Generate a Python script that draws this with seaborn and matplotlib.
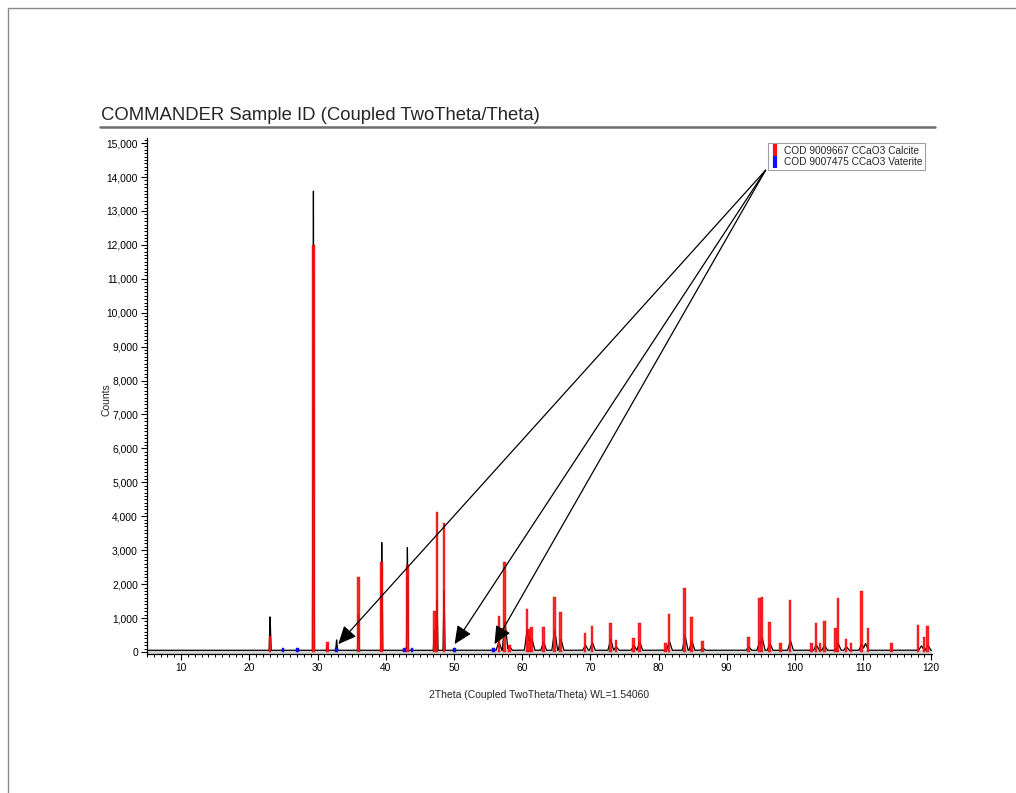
import numpy as np
import pandas as pd
import matplotlib
matplotlib.use("Agg")
import matplotlib.pyplot as plt
import seaborn as sns
from matplotlib.lines import Line2D
from matplotlib.ticker import MultipleLocator, FuncFormatter

# ---------------- data ----------------
calcite_2theta = [23.05, 29.4, 31.45, 36.0, 39.42, 43.18, 47.12, 47.52, 48.55,
                  56.6, 57.45, 58.15, 60.7, 61.05, 61.42, 63.1, 64.72, 65.65,
                  69.25, 70.25, 72.95, 73.75, 76.35, 77.2, 81.05, 81.55, 83.85,
                  84.85, 86.45, 93.2, 94.8, 95.15, 96.3, 97.85, 99.3, 102.4,
                  103.1, 103.7, 104.3, 105.95, 106.3, 107.5, 108.2, 109.75,
                  110.7, 114.2, 118.05, 118.95, 119.45]
calcite_counts = [480, 12000, 280, 2220, 2660, 2550, 1210, 4120, 3790,
                  1070, 2660, 200, 1270, 680, 735, 745, 1630, 1170,
                  570, 765, 865, 355, 425, 845, 255, 1120, 1875,
                  1040, 335, 450, 1580, 1630, 875, 255, 1530, 255,
                  845, 255, 925, 700, 1580, 375, 255, 1800,
                  700, 255, 795, 450, 765]

vaterite_2theta = [24.95, 27.05, 32.8, 42.8, 43.85, 50.1, 55.8]
vaterite_counts = [130, 130, 130, 120, 130, 130, 120]

scan_peak_2theta = [23.05, 29.4, 31.45, 32.8, 36.0, 39.42, 43.18, 47.12, 47.52,
                    48.55, 56.6, 57.5, 58.15, 60.75, 61.1, 61.45, 63.15, 64.78,
                    65.7, 69.3, 70.3, 73.0, 73.8, 76.4, 77.25, 81.6, 83.9,
                    84.9, 86.5, 93.25, 94.85, 95.2, 96.35, 99.35, 103.15, 104.35,
                    106.35, 107.55, 109.8, 110.35, 118.55, 119.5]
scan_peak_counts = [1050, 13800, 180, 360, 1100, 3250, 3100, 650, 1550,
                    1850, 300, 900, 150, 660, 450, 380, 300, 650,
                    380, 200, 280, 380, 150, 200, 300, 320, 470,
                    320, 110, 150, 320, 420, 250, 330, 200, 200,
                    250, 150, 230, 250, 180, 200]
scan_background = 50

legend_labels = ["COD 9009667 CCaO3 Calcite", "COD 9007475 CCaO3 Vaterite"]
arrow_tail = (95.7, 14200)
arrow_tips_2theta = [33.05, 50.1, 55.95]
arrow_tips_counts = [230, 230, 230]

title_text = "COMMANDER Sample ID (Coupled TwoTheta/Theta)"
x_label = "2Theta (Coupled TwoTheta/Theta) WL=1.54060"
y_label = "Counts"

# ---------------- style ----------------
sns.set_style("ticks")
plt.rcParams["font.family"] = ["Liberation Sans", "DejaVu Sans"]

W, H = 1016, 793
fig = plt.figure(figsize=(W / 100, H / 100), dpi=100)
ax = fig.add_axes([147 / W, 1 - 654 / H, (932 - 147) / W, (654 - 138) / H])

# measured scan profile built from the read peak list
grid = np.linspace(5, 120.1, 24000)
profile = np.full_like(grid, float(scan_background))
for p, h in zip(scan_peak_2theta, scan_peak_counts):
    hw = 0.14 if p < 55 else 0.42
    tri = h - (h - scan_background) * np.abs(grid - p) / hw
    profile = np.maximum(profile, tri)
scan = pd.DataFrame({"2theta": grid, "counts": profile})

ax.fill_between([5, 120.1], [-60, -60], [scan_background, scan_background],
                color="#d4d4d4", lw=0, zorder=1)
sns.lineplot(data=scan, x="2theta", y="counts", color="black", lw=0.9,
             estimator=None, ax=ax, zorder=2)

ax.bar(calcite_2theta, calcite_counts, width=0.38, color="#ff1010",
       edgecolor="#d40000", linewidth=0.3, alpha=0.9, zorder=3)
ax.bar(vaterite_2theta, vaterite_counts, width=0.42, color="#1010ff",
       edgecolor="#0000c0", linewidth=0.3, zorder=4)

ax.set_xlim(5, 120.1)
ax.set_ylim(-60, 15150)
ax.set_xlabel("")
ax.set_ylabel("")

ax.xaxis.set_major_locator(MultipleLocator(10))
ax.xaxis.set_minor_locator(MultipleLocator(1))
ax.yaxis.set_major_locator(MultipleLocator(1000))
ax.yaxis.set_minor_locator(MultipleLocator(100))
ax.yaxis.set_major_formatter(FuncFormatter(lambda v, p: f"{int(round(v)):,}"))
ax.xaxis.set_major_formatter(FuncFormatter(lambda v, p: f"{int(round(v))}"))
ax.tick_params(axis="both", which="major", direction="out", length=4.5,
               width=0.8, labelsize=7.4, colors="black", pad=2)
ax.tick_params(axis="both", which="minor", direction="out", length=2.5,
               width=0.7, colors="black")
for s in ["top", "right"]:
    ax.spines[s].set_visible(False)
for s in ["left", "bottom"]:
    ax.spines[s].set_linewidth(0.9)
    ax.spines[s].set_color("black")

# legend
handles = [Line2D([], [], linestyle="None", marker="|", markersize=8,
                  markeredgewidth=3, color="#ff1010"),
           Line2D([], [], linestyle="None", marker="|", markersize=8,
                  markeredgewidth=3, color="#1010ff")]
leg = ax.legend(handles, legend_labels, loc="upper right",
                bbox_to_anchor=(925 / W, 1 - 143 / H),
                bbox_transform=fig.transFigure, fontsize=7.3, frameon=True,
                fancybox=False, edgecolor="#a0a0a0", framealpha=1,
                borderpad=0.25, handlelength=0.8, handletextpad=0.5,
                labelspacing=0.15, borderaxespad=0)
leg.get_frame().set_linewidth(0.8)
leg.set_zorder(6)

# arrows from legend corner to vaterite positions
for tx, ty in zip(arrow_tips_2theta, arrow_tips_counts):
    ax.annotate("", xy=(tx, ty), xytext=arrow_tail,
                arrowprops=dict(arrowstyle="-|>,head_length=0.55,head_width=0.25",
                                mutation_scale=20, color="black", lw=0.9,
                                shrinkA=0, shrinkB=0), zorder=5)

# labels and title
fig.text(539 / W, 1 - 695 / H, x_label, ha="center", va="center", fontsize=7.5)
fig.text(107 / W, 1 - 400 / H, y_label, ha="center", va="center",
         rotation=90, fontsize=7.5)
fig.text(101 / W, 1 - 115 / H, title_text, ha="left", va="center",
         fontsize=13.3)

# title underline and page border
fig.add_artist(Line2D([100 / W, 935 / W], [1 - 127 / H] * 2,
                      transform=fig.transFigure, color="#6e6e6e", lw=1.8))
fig.add_artist(Line2D([8 / W, 1], [1 - 8 / H] * 2,
                      transform=fig.transFigure, color="#8a8a8a", lw=1.0))
fig.add_artist(Line2D([8 / W, 8 / W], [0, 1 - 8 / H],
                      transform=fig.transFigure, color="#8a8a8a", lw=1.0))

fig.savefig("out.png", dpi=100, facecolor="white")
